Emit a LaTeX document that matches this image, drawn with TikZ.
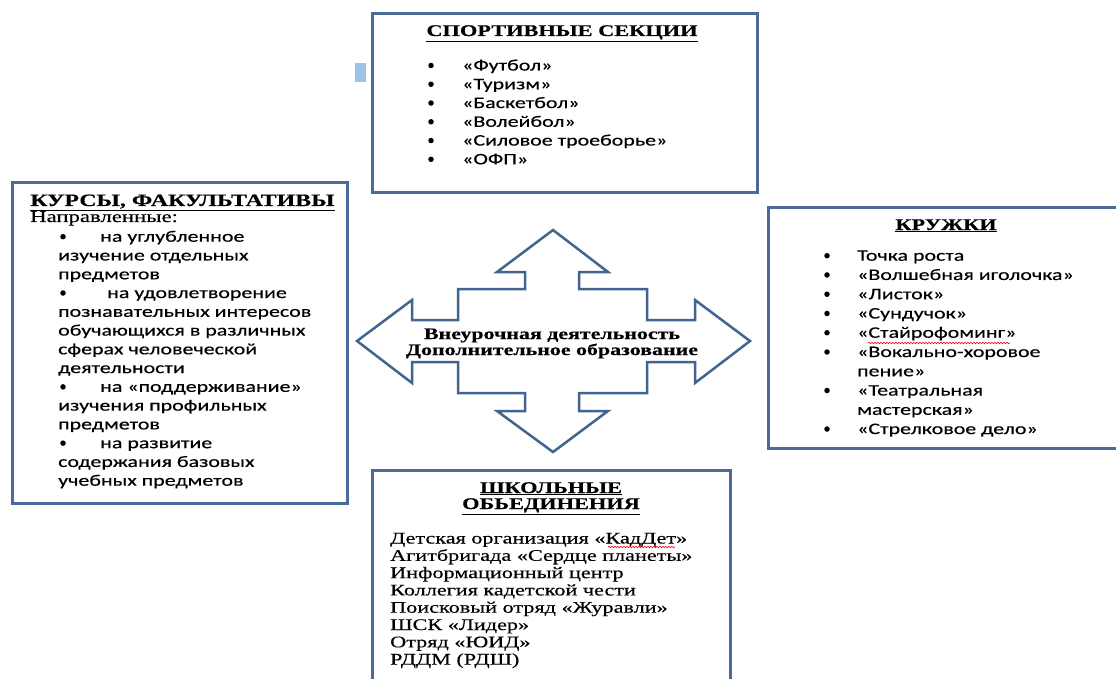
\documentclass[tikz,border=0pt]{standalone}
\usepackage{fontspec}
\usetikzlibrary{decorations.pathmorphing}
\newfontfamily\sansf[FakeStretch=1.37,FakeBold=0.4]{Carlito}
\newfontfamily\serf[FakeStretch=1.37,FakeBold=0.4]{Liberation Serif}
\definecolor{boxc}{HTML}{4A6B98}
\definecolor{arrc}{HTML}{41658F}
\definecolor{tabc}{HTML}{9DC3E6}
\tikzset{
  box/.style={draw=boxc, line width=3pt, inner sep=0pt},
  hd/.style={font=\serf\bfseries\fontsize{16.3}{16}\selectfont, anchor=base, inner sep=0pt},
  hdl/.style={hd, anchor=base west},
  it/.style={font=\sansf\fontsize{16}{16}\selectfont, anchor=base west, inner sep=0pt},
  sr/.style={font=\serf\fontsize{16.2}{16}\selectfont, anchor=base west, inner sep=0pt},
  ctr/.style={font=\serf\bfseries\fontsize{16}{16}\selectfont, anchor=base, inner sep=0pt},
  dot/.style={circle, fill=black, inner sep=0pt, minimum size=5.5pt},
  spell/.style={draw=red, line width=0.6pt, decorate, decoration={snake, amplitude=0.8pt, segment length=3pt}}
}
\begin{document}
\begin{tikzpicture}[x=1pt, y=-1pt]
\useasboundingbox (0,0) rectangle (1116,679);
\clip (0,0) rectangle (1116,679);
\fill[white] (0,0) rectangle (1116,679);

% boxes
\node[box, minimum width=385pt, minimum height=179pt] (sport) at (564.5,103.5) {};
\node[box, minimum width=335pt, minimum height=320pt] (kurs) at (179.5,343) {};
\node[box, minimum width=357pt, minimum height=240pt] (kruzh) at (946.5,328) {};
\node[box, minimum width=358pt, minimum height=230pt] (shkol) at (551,585) {};
\fill[tabc] (355,63) rectangle (366,82);

% central four-way arrow
\draw[draw=arrc, line width=2.5pt, line join=miter, fill=white]
  (553,230) -- (608,272) -- (579,272) -- (579,289) -- (647,289) -- (647,320)
  -- (695,320) -- (695,300) -- (750,341) -- (695,383) -- (695,362) -- (647,362)
  -- (647,393) -- (579,393) -- (579,411) -- (608,411) -- (553,452) -- (497,411)
  -- (525,411) -- (525,393) -- (458,393) -- (458,362) -- (412,362) -- (412,383)
  -- (357,341) -- (412,300) -- (412,320) -- (458,320) -- (458,289) -- (525,289)
  -- (525,272) -- (497,272) -- cycle;
\node[ctr] (c1) at (552,339) {Внеурочная деятельность};
\node[ctr] (c2) at (552,355) {Дополнительное образование};

% top box
\node[hd] (sporth) at (562,36) {\underline{СПОРТИВНЫЕ СЕКЦИИ}};
\foreach \t [count=\i] in {«Футбол»,«Туризм»,«Баскетбол»,«Волейбол»,«Силовое троеборье»,«ОФП»} {
  \node[it] (sp\i) at (462,70.5+18.76*\i-18.76) {\t};
  \node[dot] (spb\i) at (431,65.5+18.76*\i-18.76) {};
}

% left box
\node[hdl, font=\serf\bfseries\fontsize{17.4}{16}\selectfont] (kursh) at (30,206) {\underline{КУРСЫ, ФАКУЛЬТАТИВЫ}};
\node[sr, font=\serf\fontsize{16.6}{16}\selectfont] (napr) at (30,222) {Направленные:};
\foreach \x/\t/\b [count=\i] in {
  100/на углубленное/1, 58/изучение отдельных/0, 58/предметов/0,
  107/на удовлетворение/1, 58/познавательных интересов/0, 58/обучающихся в различных/0,
  58/сферах человеческой/0, 58/деятельности/0,
  100/на «поддерживание»/1, 58/изучения профильных/0, 58/предметов/0,
  100/на развитие/1, 58/содержания базовых/0, 58/учебных предметов/0} {
  \node[it] (ku\i) at (\x,241.7+18.77*\i-18.77) {\t};
  \ifnum\b=1 \node[dot] (kub\i) at (63,236.7+18.77*\i-18.77) {}; \fi
}

% right box
\node[hd] (kruzhh) at (946,230) {\underline{КРУЖКИ}};
\foreach \t/\b [count=\i] in {
  Точка роста/1, «Волшебная иголочка»/1, «Листок»/1, «Сундучок»/1, «Стайрофоминг»/1,
  «Вокально-хоровое/1, пение»/0, «Театральная/1, мастерская»/0, «Стрелковое дело»/1} {
  \node[it] (kr\i) at (857,260.7+19.26*\i-19.26) {\t};
  \ifnum\b=1 \node[dot] (krb\i) at (827,255.7+19.26*\i-19.26) {}; \fi
}
\draw[spell] (868,343) -- (1010,343);

% bottom box
\node[hd] (shh1) at (551,493) {\underline{ШКОЛЬНЫЕ}};
\node[hd] (shh2) at (551,509) {\underline{ОБЬЕДИНЕНИЯ}};
\foreach \t [count=\i] in {
  Детская организация «КадДет», Агитбригада «Сердце планеты», Информационный центр,
  Коллегия кадетской чести, Поисковый отряд «Журавли», ШСК «Лидер», Отряд «ЮИД», РДДМ (РДШ)} {
  \node[sr] (sh\i) at (390,543.5+17.3*\i-17.3) {\t};
}
\draw[spell] (608,547) -- (675,547);
\end{tikzpicture}
\end{document}
